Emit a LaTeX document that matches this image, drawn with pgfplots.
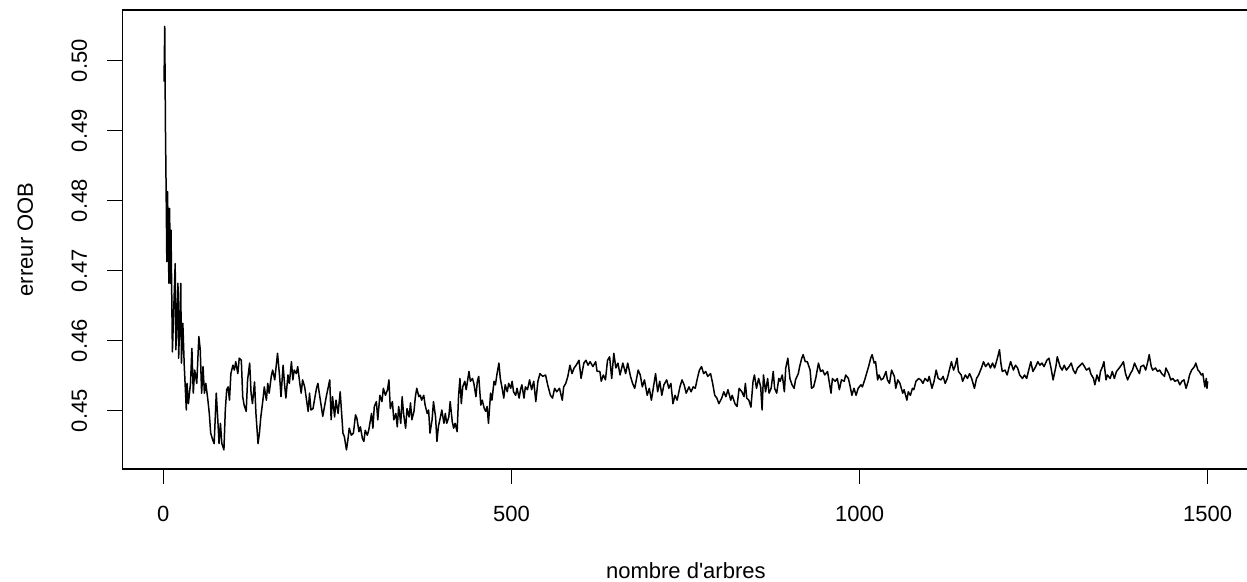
\documentclass[border=0pt]{standalone}
\usepackage{fontspec}
\setmainfont{Liberation Sans}
\usepackage{pgfplots}
\pgfplotsset{compat=1.18}
\pgfplotstableread{
t err
1 0.4970
2 0.5049
3 0.4906
4 0.4815
5 0.4713
6 0.4813
8 0.4682
9 0.4789
10 0.4682
11 0.4758
13 0.4584
17 0.4710
18 0.4587
21 0.4682
22 0.4575
25 0.4682
26 0.4568
28 0.4625
30 0.4565
33 0.4501
34 0.4539
36 0.4510
39 0.4539
41 0.4589
43 0.4525
45 0.4558
48 0.4539
51 0.4606
53 0.4587
55 0.4525
57 0.4563
59 0.4525
61 0.4539
64 0.4515
66 0.4496
68 0.4468
71 0.4458
73 0.4453
76 0.4525
78 0.4491
80 0.4453
82 0.4482
84 0.4453
87 0.4444
89 0.4501
91 0.4530
93 0.4534
95 0.4515
97 0.4553
100 0.4565
102 0.4558
104 0.4570
107 0.4553
109 0.4575
112 0.4572
114 0.4520
116 0.4508
119 0.4499
121 0.4544
124 0.4568
126 0.4525
128 0.4510
131 0.4541
133 0.4496
136 0.4453
138 0.4468
140 0.4491
143 0.4515
145 0.4534
148 0.4515
150 0.4539
152 0.4525
155 0.4549
157 0.4558
160 0.4544
162 0.4563
164 0.4582
167 0.4549
169 0.4520
172 0.4565
174 0.4539
176 0.4518
179 0.4551
181 0.4539
184 0.4570
186 0.4544
188 0.4558
191 0.4553
193 0.4563
196 0.4539
198 0.4525
200 0.4544
203 0.4534
205 0.4520
208 0.4499
210 0.4525
212 0.4501
215 0.4503
217 0.4515
220 0.4532
222 0.4539
224 0.4525
229 0.4492
234 0.4520
239 0.4544
241 0.4487
243 0.4520
246 0.4491
248 0.4515
251 0.4496
254 0.4527
258 0.4468
260 0.4463
263 0.4444
265 0.4458
267 0.4475
270 0.4465
273 0.4468
276 0.4494
278 0.4489
281 0.4470
283 0.4477
286 0.4460
288 0.4456
290 0.4472
293 0.4465
295 0.4472
299 0.4496
301 0.4475
303 0.4506
306 0.4513
308 0.4487
311 0.4522
314 0.4513
316 0.4532
319 0.4522
322 0.4530
324 0.4544
326 0.4503
329 0.4513
331 0.4487
334 0.4496
336 0.4477
338 0.4506
341 0.4482
343 0.4520
345 0.4496
348 0.4475
350 0.4503
353 0.4491
355 0.4511
357 0.4487
360 0.4499
362 0.4520
364 0.4532
367 0.4520
369 0.4522
371 0.4515
374 0.4522
376 0.4508
379 0.4496
381 0.4501
383 0.4468
386 0.4487
388 0.4513
391 0.4491
393 0.4456
395 0.4477
398 0.4491
400 0.4501
403 0.4482
405 0.4496
407 0.4482
410 0.4491
412 0.4513
415 0.4484
417 0.4475
419 0.4482
422 0.4470
424 0.4520
426 0.4546
428 0.4510
430 0.4534
433 0.4542
435 0.4530
439 0.4556
441 0.4542
444 0.4546
446 0.4539
449 0.4520
451 0.4542
453 0.4549
456 0.4508
458 0.4515
461 0.4503
463 0.4499
465 0.4506
467 0.4482
470 0.4525
472 0.4515
475 0.4542
477 0.4537
479 0.4551
482 0.4568
484 0.4546
487 0.4530
489 0.4518
491 0.4537
494 0.4527
496 0.4539
499 0.4532
501 0.4542
503 0.4527
506 0.4522
508 0.4532
511 0.4518
513 0.4530
515 0.4537
518 0.4518
520 0.4534
523 0.4530
525 0.4539
526 0.4544
529 0.4530
532 0.4542
535 0.4513
538 0.4542
541 0.4553
545 0.4549
549 0.4551
552 0.4537
556 0.4522
559 0.4518
562 0.4532
565 0.4527
569 0.4532
573 0.4515
575 0.4534
578 0.4539
581 0.4549
584 0.4565
587 0.4553
590 0.4561
593 0.4565
597 0.4572
600 0.4546
604 0.4568
607 0.4572
610 0.4565
613 0.4570
617 0.4563
621 0.4570
623 0.4556
627 0.4556
629 0.4542
632 0.4551
635 0.4544
638 0.4572
641 0.4577
644 0.4546
647 0.4582
650 0.4561
653 0.4568
656 0.4551
660 0.4568
664 0.4553
667 0.4568
671 0.4549
674 0.4539
677 0.4532
679 0.4542
682 0.4558
685 0.4551
688 0.4534
691 0.4544
695 0.4522
698 0.4532
701 0.4515
704 0.4534
707 0.4553
710 0.4527
713 0.4542
716 0.4522
719 0.4537
723 0.4544
726 0.4532
729 0.4539
732 0.4510
735 0.4522
738 0.4515
742 0.4534
745 0.4544
748 0.4537
751 0.4525
755 0.4534
758 0.4527
761 0.4534
764 0.4532
767 0.4546
770 0.4558
773 0.4563
776 0.4553
779 0.4556
782 0.4549
786 0.4553
789 0.4539
792 0.4522
795 0.4518
798 0.4510
802 0.4518
805 0.4527
808 0.4520
811 0.4530
815 0.4515
817 0.4522
821 0.4510
824 0.4506
827 0.4532
831 0.4527
834 0.4520
836 0.4539
838 0.4518
841 0.4515
844 0.4505
847 0.4542
849 0.4551
852 0.4532
855 0.4546
858 0.4534
860 0.4501
862 0.4551
865 0.4527
868 0.4546
870 0.4525
873 0.4532
876 0.4556
878 0.4532
881 0.4525
884 0.4546
886 0.4542
889 0.4551
892 0.4527
894 0.4561
897 0.4575
900 0.4546
903 0.4537
906 0.4532
908 0.4544
912 0.4553
914 0.4563
917 0.4575
919 0.4580
922 0.4570
925 0.4570
929 0.4558
931 0.4532
934 0.4534
937 0.4546
941 0.4568
944 0.4556
947 0.4558
950 0.4551
954 0.4556
956 0.4544
959 0.4525
961 0.4546
965 0.4542
968 0.4546
971 0.4530
974 0.4544
978 0.4542
980 0.4551
984 0.4546
986 0.4537
989 0.4522
992 0.4532
995 0.4522
998 0.4532
1002 0.4537
1004 0.4534
1008 0.4546
1010 0.4553
1013 0.4563
1016 0.4575
1018 0.4580
1021 0.4568
1023 0.4570
1026 0.4544
1028 0.4551
1031 0.4544
1034 0.4546
1038 0.4556
1040 0.4544
1043 0.4539
1046 0.4558
1050 0.4549
1052 0.4532
1055 0.4544
1058 0.4539
1062 0.4525
1064 0.4530
1068 0.4515
1070 0.4527
1073 0.4522
1076 0.4532
1078 0.4530
1081 0.4542
1085 0.4546
1088 0.4544
1091 0.4539
1094 0.4546
1098 0.4542
1100 0.4549
1104 0.4532
1107 0.4542
1110 0.4558
1113 0.4546
1117 0.4544
1120 0.4549
1123 0.4539
1126 0.4546
1129 0.4558
1132 0.4570
1135 0.4558
1137 0.4563
1140 0.4575
1142 0.4556
1146 0.4551
1148 0.4542
1152 0.4551
1155 0.4546
1158 0.4553
1161 0.4546
1165 0.4532
1168 0.4546
1171 0.4551
1175 0.4561
1178 0.4570
1181 0.4563
1185 0.4568
1188 0.4561
1191 0.4568
1194 0.4561
1198 0.4575
1201 0.4587
1203 0.4568
1205 0.4556
1209 0.4558
1212 0.4551
1215 0.4563
1217 0.4570
1221 0.4558
1224 0.4565
1227 0.4561
1230 0.4551
1234 0.4546
1237 0.4551
1240 0.4546
1243 0.4558
1246 0.4570
1249 0.4556
1253 0.4563
1256 0.4570
1259 0.4565
1262 0.4568
1265 0.4563
1269 0.4572
1272 0.4575
1275 0.4561
1278 0.4544
1282 0.4563
1284 0.4577
1288 0.4563
1291 0.4558
1294 0.4565
1297 0.4558
1301 0.4563
1304 0.4568
1307 0.4558
1310 0.4553
1313 0.4561
1317 0.4565
1320 0.4568
1323 0.4563
1326 0.4558
1330 0.4561
1332 0.4553
1336 0.4546
1338 0.4537
1341 0.4551
1344 0.4542
1346 0.4556
1349 0.4563
1351 0.4570
1354 0.4544
1356 0.4551
1360 0.4546
1363 0.4556
1366 0.4546
1369 0.4556
1373 0.4561
1376 0.4565
1379 0.4570
1382 0.4553
1385 0.4544
1389 0.4553
1392 0.4558
1395 0.4568
1398 0.4561
1402 0.4553
1404 0.4563
1408 0.4565
1411 0.4558
1414 0.4570
1416 0.4580
1419 0.4563
1421 0.4558
1425 0.4561
1428 0.4556
1431 0.4558
1434 0.4553
1438 0.4549
1440 0.4561
1444 0.4553
1447 0.4544
1450 0.4546
1453 0.4542
1457 0.4544
1460 0.4537
1463 0.4542
1466 0.4544
1469 0.4532
1472 0.4542
1474 0.4551
1477 0.4558
1481 0.4563
1483 0.4568
1486 0.4558
1488 0.4556
1491 0.4551
1493 0.4553
1496 0.4534
1498 0.4546
1499 0.4532
1500 0.4542
}\ooberr

\begin{document}
\fontsize{11}{13}\selectfont
\begin{tikzpicture}
\begin{axis}[
  at={(0,0)}, anchor=south west,
  scale only axis,
  width=563.55pt, height=229.5pt,
  xmin=-58.96, xmax=1559.96,
  ymin=0.44167, ymax=0.50724,
  xtick={0,500,1000,1500},
  ytick={0.45,0.46,0.47,0.48,0.49,0.50},
  tick pos=left,
  tick align=outside,
  major tick length=7.5pt,
  axis line style={line width=0.75pt},
  every tick/.style={line width=0.75pt, black},
  /pgf/number format/assume math mode=true,
  x tick label style={/pgf/number format/1000 sep={}, anchor=center, yshift=-15pt},
  y tick label style={/pgf/number format/.cd, fixed, fixed zerofill, precision=2, /tikz/.cd, rotate=90, anchor=center},
  yticklabel shift=14pt,
  xlabel={nombre d\textquotesingle arbres},
  ylabel={erreur OOB},
  x label style={at={(axis description cs:0.5,0)}, anchor=center, yshift=-51pt},
  y label style={at={(axis description cs:-0.08606,0.5)}, anchor=center},
  tick label style={font=\fontsize{11}{13}\selectfont},
  label style={font=\fontsize{11}{13}\selectfont},
]
\addplot[black, line width=0.75pt, line join=round] table[x=t, y=err] {\ooberr};
\end{axis}
\pgfresetboundingbox
\path[use as bounding box] (-61.15pt,-56.5pt) rectangle (562.35pt,234.5pt);
\end{tikzpicture}
\end{document}
